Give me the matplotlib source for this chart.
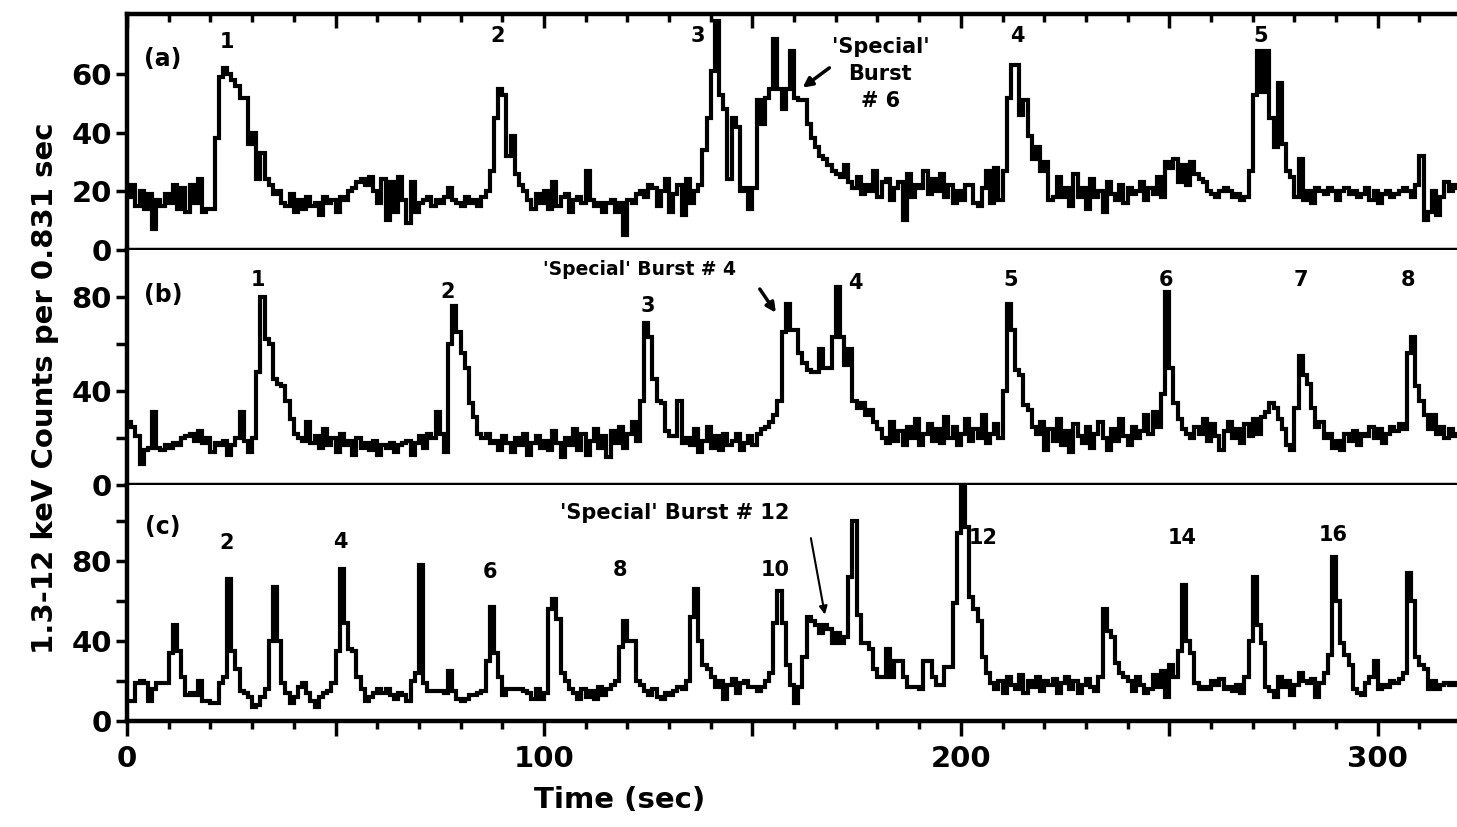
import numpy as np
import matplotlib.pyplot as plt

# counts per 1 s bin (bin i spans i..i+1 sec)
counts_a = [
    18, 22, 15, 20, 14, 19, 7, 17, 15, 19,
    16, 22, 14, 21, 13, 22, 16, 24, 13, 14,
    14, 38, 59, 62, 60, 58, 56, 52, 52, 36,
    40, 24, 33, 24, 22, 19, 20, 16, 15, 19,
    13, 17, 14, 18, 15, 16, 12, 18, 16, 17,
    13, 18, 17, 20, 21, 23, 24, 22, 25, 20,
    16, 24, 10, 23, 13, 25, 17, 9, 23, 13,
    16, 17, 18, 15, 17, 16, 18, 21, 17, 16,
    15, 18, 16, 17, 15, 18, 20, 27, 45, 55,
    53, 32, 39, 26, 22, 20, 17, 14, 19, 16,
    20, 14, 23, 15, 18, 19, 13, 17, 18, 16,
    27, 17, 15, 16, 13, 16, 17, 13, 16, 5,
    17, 16, 19, 20, 18, 22, 21, 15, 20, 24,
    13, 19, 22, 12, 24, 16, 20, 22, 34, 45,
    61, 78, 53, 48, 24, 45, 42, 20, 21, 14,
    21, 51, 43, 52, 55, 72, 55, 48, 55, 68,
    52, 51, 51, 43, 38, 35, 32, 31, 29, 27,
    26, 25, 29, 23, 21, 25, 19, 22, 20, 27,
    18, 23, 24, 17, 21, 23, 10, 26, 18, 22,
    21, 27, 19, 24, 20, 26, 18, 22, 16, 20,
    17, 22, 22, 16, 15, 21, 27, 16, 28, 17,
    27, 52, 63, 63, 46, 51, 39, 31, 35, 27,
    30, 17, 18, 25, 18, 21, 15, 26, 18, 21,
    14, 24, 18, 20, 13, 23, 19, 17, 22, 16,
    21, 19, 20, 23, 17, 21, 19, 25, 18, 30,
    28, 31, 23, 29, 22, 30, 26, 24, 23, 20,
    19, 18, 20, 21, 20, 18, 19, 17, 18, 27,
    53, 68, 54, 68, 45, 35, 57, 36, 27, 25,
    18, 31, 17, 20, 16, 21, 20, 19, 21, 20,
    17, 20, 21, 19, 20, 18, 19, 21, 17, 20,
    16, 19, 20, 18, 19, 20, 21, 20, 18, 22,
    32, 10, 13, 20, 12, 18, 23, 20, 22, 21,
]

counts_b = [
    27, 25, 21, 9, 15, 16, 31, 16, 15, 17,
    16, 18, 17, 20, 21, 22, 19, 23, 18, 20,
    14, 18, 17, 19, 13, 17, 20, 31, 19, 14,
    20, 48, 80, 62, 60, 45, 43, 42, 36, 28,
    22, 20, 19, 27, 18, 21, 16, 24, 17, 20,
    14, 22, 17, 19, 13, 20, 16, 18, 15, 19,
    13, 17, 16, 18, 14, 17, 18, 19, 13, 18,
    21, 16, 22, 20, 31, 22, 14, 60, 76, 65,
    56, 50, 35, 29, 22, 20, 22, 18, 19, 15,
    21, 18, 14, 20, 17, 22, 13, 18, 21, 16,
    19, 15, 23, 18, 12, 20, 17, 24, 15, 22,
    13, 19, 24, 16, 21, 12, 23, 18, 25, 16,
    22, 27, 19, 36, 69, 63, 45, 36, 35, 23,
    21, 21, 36, 18, 20, 17, 24, 14, 19, 25,
    16, 21, 15, 22, 17, 19, 22, 15, 18, 21,
    17, 22, 24, 25, 27, 30, 36, 65, 77, 66,
    66, 56, 52, 49, 48, 48, 58, 50, 50, 63,
    84, 63, 51, 58, 36, 33, 35, 30, 32, 27,
    24, 20, 18, 27, 19, 23, 17, 25, 20, 28,
    17, 22, 26, 19, 24, 18, 29, 20, 25, 17,
    22, 28, 19, 24, 20, 30, 18, 22, 26, 20,
    40, 77, 66, 49, 47, 34, 32, 25, 22, 27,
    15, 24, 19, 28, 17, 23, 14, 26, 21, 18,
    25, 16, 22, 27, 20, 15, 24, 19, 28, 21,
    17, 25, 20, 23, 30, 22, 31, 25, 39, 82,
    50, 35, 28, 24, 22, 20, 25, 22, 28, 19,
    26, 21, 15, 23, 27, 20, 24, 18, 26, 21,
    28, 22, 29, 31, 35, 33, 28, 24, 17, 15,
    33, 55, 47, 43, 33, 25, 27, 20, 22, 16,
    19, 15, 22, 19, 23, 17, 22, 21, 25, 20,
    24, 18, 22, 25, 23, 26, 24, 56, 63, 42,
    36, 30, 24, 30, 22, 25, 20, 24, 21, 22,
]

counts_c = [
    10, 10, 19, 20, 19, 10, 16, 19, 19, 19,
    34, 48, 35, 22, 13, 14, 13, 20, 10, 10,
    9, 9, 19, 22, 71, 35, 26, 15, 14, 12,
    7, 8, 12, 16, 40, 67, 40, 19, 14, 9,
    12, 17, 19, 14, 10, 7, 12, 14, 15, 19,
    35, 76, 49, 36, 35, 22, 16, 10, 12, 14,
    16, 14, 16, 13, 11, 14, 13, 10, 20, 24,
    78, 19, 15, 15, 15, 15, 14, 25, 15, 11,
    10, 11, 13, 13, 14, 15, 30, 57, 34, 22,
    13, 16, 16, 16, 16, 15, 14, 11, 16, 11,
    14, 56, 61, 51, 24, 20, 16, 14, 11, 16,
    12, 15, 11, 17, 13, 16, 18, 20, 37, 50,
    40, 40, 20, 18, 15, 13, 16, 12, 11, 14,
    13, 15, 17, 16, 20, 52, 66, 40, 28, 26,
    22, 17, 20, 11, 18, 21, 14, 19, 20, 17,
    17, 15, 17, 20, 24, 49, 65, 49, 28, 18,
    9, 17, 32, 52, 50, 48, 44, 48, 46, 39,
    44, 39, 42, 72, 100, 53, 39, 39, 36, 26,
    22, 22, 36, 22, 30, 30, 22, 17, 17, 17,
    16, 30, 30, 22, 18, 18, 27, 27, 59, 94,
    118, 97, 62, 56, 50, 32, 24, 19, 16, 20,
    14, 22, 18, 16, 23, 14, 20, 17, 22, 15,
    20, 18, 21, 14, 19, 22, 16, 20, 14, 18,
    21, 17, 15, 22, 56, 45, 42, 29, 24, 22,
    20, 15, 22, 18, 14, 16, 23, 17, 25, 12,
    28, 22, 35, 68, 40, 34, 19, 16, 17, 16,
    20, 18, 21, 16, 17, 15, 18, 14, 22, 40,
    72, 48, 39, 17, 15, 12, 22, 17, 20, 13,
    18, 24, 20, 19, 21, 12, 19, 24, 33, 82,
    60, 39, 33, 28, 16, 14, 13, 19, 22, 30,
    16, 18, 17, 20, 19, 21, 24, 74, 60, 32,
    28, 26, 16, 20, 16, 18, 19, 18, 19, 18,
]

# burst number labels: (time, height, text)
labels_a = [(24, 71, '1'), (89, 73, '2'), (137, 73, '3'), (213.6, 73, '4'), (272, 73, '5')]
labels_b = [(31.5, 87, '1'), (76.8, 82, '2'), (124.8, 76, '3'), (174.7, 86, '4'),
            (212, 87, '5'), (249.1, 87, '6'), (281.5, 87, '7'), (307.2, 87, '8')]
labels_c = [(24, 89, '2'), (51.1, 89.5, '4'), (87.1, 74.5, '6'), (118.3, 75.5, '8'),
            (155.5, 75.5, '10'), (205.4, 91.5, '12'), (253.2, 91.5, '14'), (289.2, 93, '16')]

plt.rcParams['font.family'] = 'DejaVu Sans'
plt.rcParams['font.weight'] = 'bold'

fig = plt.figure(figsize=(14.57, 8.27), dpi=100)

h = 0.285
ax_a = fig.add_axes([0.0872, 0.128 + 2 * h, 0.9128, h])
ax_b = fig.add_axes([0.0872, 0.128 + h, 0.9128, h])
ax_c = fig.add_axes([0.0872, 0.128, 0.9128, h])

panels = [(ax_a, counts_a, 80.5, [0, 20, 40, 60], [], labels_a, '(a)', 65),
          (ax_b, counts_b, 100, [0, 40, 80], [20, 60], labels_b, '(b)', 81),
          (ax_c, counts_c, 118, [0, 40, 80], [20, 60, 100], labels_c, '(c)', 97)]

for ax, counts, ytop, major, minor, labels, tag, tag_y in panels:
    edges = np.arange(len(counts) + 1)
    ax.stairs(counts, edges, baseline=None, color='black', lw=3.0)
    ax.set_xlim(0, 319)
    ax.set_ylim(0, ytop)
    ax.set_yticks(major)
    ax.set_yticks(minor, minor=True)
    ax.tick_params(axis='y', which='both', direction='out', length=8, width=2.5,
                   labelsize=21, pad=3)
    ax.spines['right'].set_visible(False)
    ax.spines['top'].set_visible(False)
    for s in ['left', 'bottom', 'top']:
        ax.spines[s].set_linewidth(3.2)
    ax.text(8.6, tag_y, tag, fontsize=17, ha='center', va='center')
    for t, y, s in labels:
        ax.text(t, y, s, fontsize=15, ha='center', va='center')

xmajor = np.arange(0, 301, 50)
xlabels = ['0', '', '100', '', '200', '', '300']
for ax in [ax_a, ax_b]:
    ax.tick_params(axis='x', which='both', bottom=False, labelbottom=False)

ax_a.spines['top'].set_visible(True)
ax_a.set_xticks(xmajor)
ax_a.set_xticks(np.arange(0, 320, 10), minor=True)
ax_a.tick_params(axis='x', which='both', top=True, direction='in', width=2.5)
ax_a.tick_params(axis='x', which='major', length=10)
ax_a.tick_params(axis='x', which='minor', length=6)

ax_c.set_xticks(xmajor)
ax_c.set_xticklabels(xlabels)
ax_c.set_xticks(np.arange(0, 320, 10), minor=True)
ax_c.tick_params(axis='x', which='both', direction='out', width=2.5, labelsize=21)
ax_c.tick_params(axis='x', which='major', length=11, pad=6)
ax_c.tick_params(axis='x', which='minor', length=6)

# 'special' burst notes
ax_a.text(180.7, 60, "'Special'\nBurst\n# 6", fontsize=15, ha='center', va='center',
          linespacing=1.45)
ax_a.annotate('', xy=(161.5, 54.8), xytext=(169, 62.7),
              arrowprops=dict(arrowstyle='-|>', color='black', lw=2.5, mutation_scale=14))

ax_b.text(123, 91.5, "'Special' Burst # 4", fontsize=13.5, ha='center', va='center')
ax_b.annotate('', xy=(156, 72.3), xytext=(151.4, 84.3),
              arrowprops=dict(arrowstyle='-|>', color='black', lw=2.5, mutation_scale=14))

ax_c.text(131.3, 104, "'Special' Burst # 12", fontsize=15, ha='center', va='center')
ax_c.annotate('', xy=(167.5, 52), xytext=(163.9, 93),
              arrowprops=dict(arrowstyle='-|>', color='black', lw=1.5, mutation_scale=12))

fig.text(0.031, 0.531, '1.3-12 keV Counts per 0.831 sec', rotation=90,
         fontsize=21, ha='center', va='center')
fig.text(0.4255, 0.033, 'Time (sec)', fontsize=21, ha='center', va='center')

fig.savefig('out.png', dpi=100)
